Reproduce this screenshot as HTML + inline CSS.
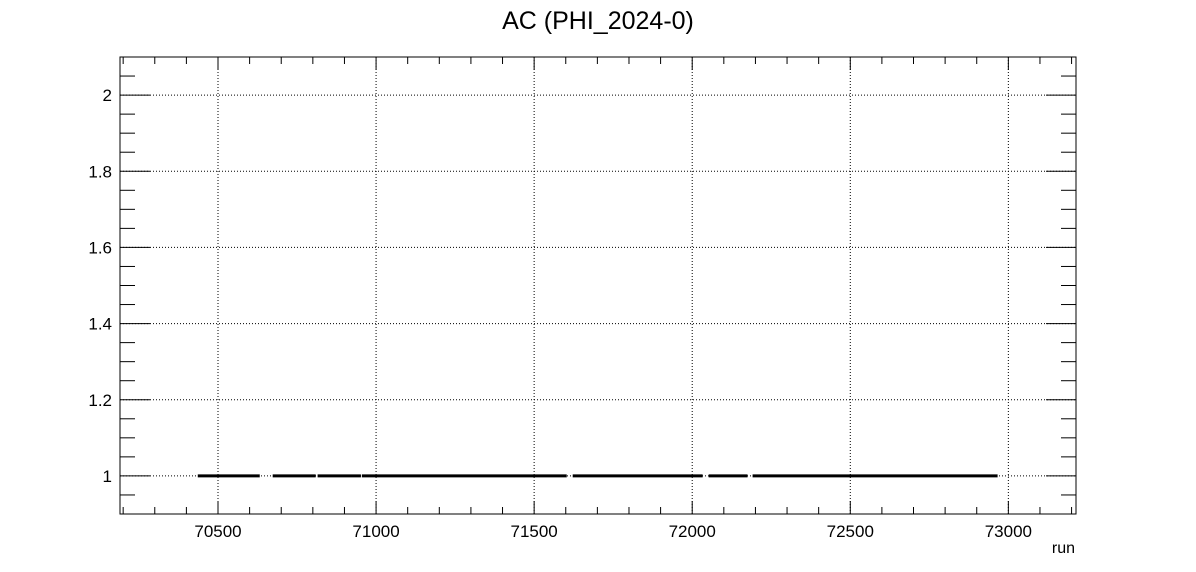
<!DOCTYPE html>
<html><head><meta charset="utf-8"><style>
body{margin:0;background:#fff;}
svg{display:block;font-family:"Liberation Sans",sans-serif;}
</style></head><body>
<svg id="c" width="1196" height="572">
<text x="598" y="29" font-size="25" text-anchor="middle">AC (PHI_2024-0)</text>
<text x="1075" y="553" font-size="16" text-anchor="end">run</text>
<g id="g"></g>
</svg>
<script>
const segStart=[70436,70673,70815,70955,71622,72052,72191];
const segEnd=[70632,70809,70952,71603,72033,72175,72966];
const segValue=[1,1,1,1,1,1,1];
const xTicks=[70500,71000,71500,72000,72500,73000];
const yTicks=[1,1.2,1.4,1.6,1.8,2];
const L=120,R=1076,T=57,B=514;
const xMin=70190,xMax=73214,yMin=0.9,yMax=2.1;
const X=v=>L+(v-xMin)/(xMax-xMin)*(R-L);
const Y=v=>B-(v-yMin)/(yMax-yMin)*(B-T);
const g=document.getElementById('g');
const NS='http://www.w3.org/2000/svg';
function mk(t,a){const e=document.createElementNS(NS,t);for(const k in a)e.setAttribute(k,a[k]);g.appendChild(e);return e;}
xTicks.forEach(v=>{const e=mk('line',{x1:X(v),x2:X(v),y1:T,y2:B,stroke:'#000','stroke-dasharray':'1,2','stroke-width':1});

});
yTicks.forEach(v=>{const e=mk('line',{x1:L,x2:R,y1:Y(v),y2:Y(v),stroke:'#000','stroke-dasharray':'1,2','stroke-width':1});

});
const fr=mk('rect',{x:L,y:T,width:R-L,height:B-T,fill:'none',stroke:'#000','stroke-width':1});


for(let v=70200;v<=73200;v+=100){const maj=v%500===0;const len=maj?13:7;
mk('line',{x1:X(v),x2:X(v),y1:B,y2:B-len,stroke:'#000'});
mk('line',{x1:X(v),x2:X(v),y1:T,y2:T+len,stroke:'#000'});}
xTicks.forEach(v=>{const t=mk('text',{x:X(v),y:B+23,'font-size':17,'text-anchor':'middle'});t.textContent=v;

});
for(let i=0;i<=24;i++){const v=0.9+i*0.05;const maj=Math.abs(Math.round(v*5)-v*5)<1e-6;const len=maj?30:15;
mk('line',{x1:L,x2:L+len,y1:Y(v),y2:Y(v),stroke:'#000'});
mk('line',{x1:R,x2:R-len,y1:Y(v),y2:Y(v),stroke:'#000'});}
yTicks.forEach(v=>{const t=mk('text',{x:112,y:Y(v)+6,'font-size':17,'text-anchor':'end'});t.textContent=String(+v.toFixed(1));

});
segStart.forEach((s,i)=>{const e=mk('line',{x1:X(s),x2:X(segEnd[i]),y1:Y(segValue[i]),y2:Y(segValue[i]),stroke:'#000','stroke-width':3});

});
</script>
</body></html>
